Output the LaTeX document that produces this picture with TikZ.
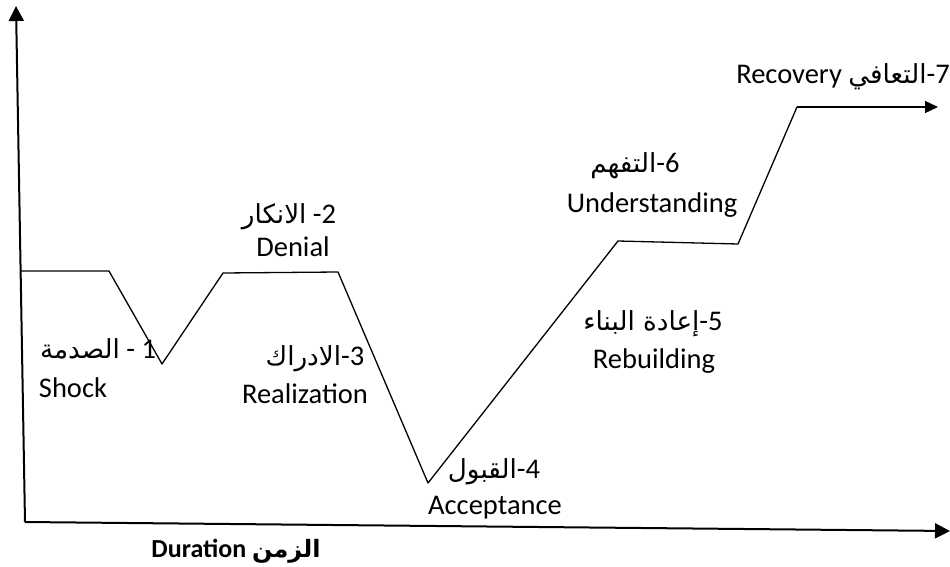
\documentclass[tikz,border=0pt]{standalone}
\usepackage{fontspec}
\setmainfont{Carlito}
\newfontfamily\arfont[Script=Arabic,Scale=0.92]{DejaVu Sans}
\TeXXeTstate=1
\newcommand{\artext}[1]{{\arfont\beginR #1\endR}}
\usetikzlibrary{arrows.meta}

\begin{document}
\begin{tikzpicture}[x=1pt,y=-1pt,
  axisline/.style={line width=2pt,-{Triangle[length=15pt,width=15pt]}},
  stageline/.style={line width=1.3pt,line join=round},
  lbl/.style={font=\fontsize{28.5}{34}\selectfont,inner sep=0pt,anchor=base}]
\useasboundingbox (0,0) rectangle (950,567);

% axes
\coordinate (origin) at (25,522);
\coordinate (ytip) at (16,6);
\coordinate (xtip) at (950,531);
\draw[axisline] (origin) -- (ytip);
\draw[axisline] (origin) -- (xtip);

% stage curve
\coordinate (c0) at (20,271);
\coordinate (c1) at (109,271);
\coordinate (c2) at (162,364);
\coordinate (c3) at (223,273);
\coordinate (c4) at (338,272);
\coordinate (c5) at (428,483);
\coordinate (c6) at (618,241);
\coordinate (c7) at (738,244);
\coordinate (c8) at (797,107);
\coordinate (c9) at (938,107);
\draw[stageline] (c0) -- (c1) -- (c2) -- (c3) -- (c4) -- (c5) -- (c6) -- (c7) -- (c8);
\draw[stageline,-{Triangle[length=13pt,width=12pt]}] (c8) -- (c9);

% stage labels
\node[lbl] (s1a) at (98,358) {\artext{الصدمة} - 1};
\node[lbl] (s1b) at (73,397) {Shock};
\node[lbl] (s2a) at (289,223) {\artext{الانكار} -2};
\node[lbl] (s2b) at (293,256) {Denial};
\node[lbl] (s3a) at (315,365) {\artext{الادراك}-3};
\node[lbl] (s3b) at (305,403) {Realization};
\node[lbl] (s4a) at (494,478) {\artext{القبول}-4};
\node[lbl] (s4b) at (495,514) {Acceptance};
\node[lbl] (s5a) at (653,330) {\artext{إعادة البناء}-5};
\node[lbl] (s5b) at (654,368) {Rebuilding};
\node[lbl] (s6a) at (635,172) {\artext{التفهم}-6};
\node[lbl] (s6b) at (652,212) {Understanding};
\node[lbl] (s7) at (843,84) {Recovery \artext{التعافي}-7};

% time axis label
\node[lbl,font=\fontsize{26}{31}\selectfont\bfseries] (tlabel) at (236,557) {Duration \artext{\bfseries الزمن}};
\end{tikzpicture}
\end{document}
